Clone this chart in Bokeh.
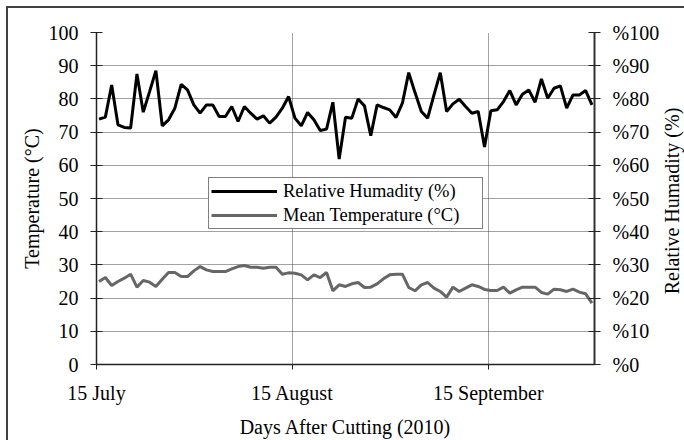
import math
from bokeh.plotting import figure
from bokeh.layouts import row
from bokeh.models import Range1d, LinearAxis, FixedTicker, Legend, LegendItem, ColumnDataSource
from bokeh.core.properties import value
from bokeh.embed import file_html
from bokeh.resources import INLINE

# Daily observations (index 0 = first day after 15 July 2010)
humidity = [73.9, 74.5, 84.2, 72.2, 71.4, 71.2, 87.5, 76.0, 82.2, 88.5,
            71.9, 73.7, 77.2, 84.4, 82.7, 78.2, 75.7, 78.2, 78.2, 74.7,
            74.7, 77.7, 73.2, 77.7, 75.7, 73.9, 74.9, 72.7, 74.5, 77.2,
            80.7, 74.2, 71.9, 75.9, 73.7, 70.5, 70.9, 79.0, 61.9, 74.5,
            74.2, 80.0, 77.9, 68.9, 78.2, 77.4, 76.7, 74.4, 78.7, 87.9,
            81.9, 76.2, 74.2, 81.2, 87.9, 76.2, 78.5, 79.9, 77.7, 75.7,
            76.2, 65.5, 76.4, 76.7, 79.2, 82.5, 78.2, 81.4, 82.7, 79.0,
            86.0, 80.2, 83.2, 83.9, 77.2, 81.2, 81.2, 82.5, 78.2]
temperature = [25.0, 26.2, 23.8, 25.0, 26.0, 27.2, 23.3, 25.3, 24.8, 23.5,
               25.7, 27.7, 27.7, 26.5, 26.5, 28.2, 29.5, 28.5, 28.0, 28.0,
               28.0, 28.8, 29.5, 29.8, 29.3, 29.3, 29.0, 29.3, 29.3, 27.2,
               27.6, 27.5, 27.0, 25.5, 27.0, 26.2, 27.7, 22.2, 24.0, 23.5,
               24.3, 24.7, 23.2, 23.3, 24.3, 25.8, 27.0, 27.2, 27.2, 23.2,
               22.2, 24.0, 24.7, 23.0, 22.0, 20.3, 23.3, 22.0, 23.0, 24.0,
               23.5, 22.6, 22.3, 22.3, 23.3, 21.5, 22.5, 23.3, 23.3, 23.3,
               21.7, 21.2, 22.7, 22.5, 22.0, 22.7, 21.8, 21.3, 18.5]
day = list(range(len(humidity)))

x_tick_pos = [-0.4, 30.6, 61.6]
x_tick_labels = ["15 July", "15 August", "15 September"]
y_ticks = [0, 10, 20, 30, 40, 50, 60, 70, 80, 90, 100]
rh_tick_labels = ["%0", "%10", "%20", "%30", "%40", "%50", "%60", "%70", "%80", "%90", "%100"]
rh_axis_title = "Relative Humadity  (%)"

src = ColumnDataSource(dict(day=day, rh=humidity, t=temperature))

FONT = "Liberation Serif"

p = figure(width=654, height=432, output_backend="svg", toolbar_location=None,
           x_range=Range1d(-0.4, 78.4), y_range=Range1d(0, 100),
           min_border_left=88, min_border_right=66, min_border_top=24, min_border_bottom=75)
p.extra_y_ranges = {"rh": Range1d(0, 100)}
p.outline_line_color = None
p.background_fill_color = "white"
p.border_fill_color = "white"

p.xaxis.ticker = FixedTicker(ticks=x_tick_pos)
p.xaxis.major_label_overrides = dict(zip(x_tick_pos, x_tick_labels))
p.xaxis.axis_label = "Days After Cutting (2010)"
p.yaxis.ticker = FixedTicker(ticks=y_ticks)
p.yaxis.axis_label = "Temperature (°C)"

right = LinearAxis(y_range_name="rh", ticker=FixedTicker(ticks=y_ticks),
                   major_label_overrides=dict(zip(y_ticks, rh_tick_labels)))
p.add_layout(right, "right")

for ax in p.axis:
    ax.axis_line_color = "#222222"
    ax.axis_line_width = 1.5
    ax.major_tick_line_color = "#222222"
    ax.major_tick_line_width = 1
    ax.major_tick_in = 6
    ax.major_tick_out = 6
    ax.minor_tick_line_color = None
    ax.major_label_text_font = FONT
    ax.major_label_text_font_size = "20px"
    ax.major_label_text_color = "black"
    ax.major_label_standoff = 12
    ax.axis_label_text_font = FONT
    ax.axis_label_text_font_size = "20px"
    ax.axis_label_text_font_style = "normal"
    ax.axis_label_text_color = "black"
    ax.axis_label_standoff = 3
right.axis_line_width = 2
right.axis_line_color = "#333333"
p.xaxis.major_tick_in = 0
p.xaxis.major_tick_out = 5
p.xaxis.major_label_standoff = 12
p.xaxis.axis_label_standoff = 9

p.xgrid.ticker = FixedTicker(ticks=x_tick_pos)
p.ygrid.ticker = FixedTicker(ticks=y_ticks)
for g in (p.xgrid, p.ygrid):
    g.grid_line_color = "#444444"
    g.grid_line_width = 1
    g.grid_line_dash = "1 1"

r_t = p.line("day", "t", source=src, line_color="#666666", line_width=3)
r_h = p.line("day", "rh", source=src, y_range_name="rh", line_color="black", line_width=3)

legend = Legend(items=[LegendItem(label="Relative Humadity (%)", renderers=[r_h]),
                       LegendItem(label="Mean Temperature (°C)", renderers=[r_t])],
                location=(112, 135))
legend.label_text_font = FONT
legend.label_text_font_size = "18.5px"
legend.label_text_color = "black"
legend.glyph_width = 66
legend.glyph_height = 20
legend.label_standoff = 6
legend.label_width = 197
legend.label_height = 22
legend.spacing = 2
legend.padding = 2
legend.margin = 0
legend.border_line_color = "black"
legend.border_line_width = 1
legend.background_fill_alpha = 1
p.add_layout(legend)

# narrow strip holding the right-hand axis title (reads bottom-to-top)
pt = figure(width=22, height=432, output_backend="svg", toolbar_location=None,
            x_range=Range1d(0, 22), y_range=Range1d(0, 100),
            x_axis_type=None, y_axis_type=None,
            min_border_left=0, min_border_right=0, min_border_top=24, min_border_bottom=75)
pt.outline_line_color = None
pt.grid.visible = False
pt.background_fill_color = "white"
pt.border_fill_color = "white"
pt.text(x=[9], y=[50], text=[rh_axis_title], angle=math.pi / 2,
        text_align="center", text_baseline="middle",
        text_font=value(FONT), text_font_size=value("20px"), text_color="black")

layout = row(p, pt, spacing=0)
layout.styles = {"margin-left": "6px", "margin-top": "6px",
                 "border-left": "2px solid #404040", "border-top": "2px solid #404040"}

open("out.html", "w").write(file_html(layout, INLINE))
